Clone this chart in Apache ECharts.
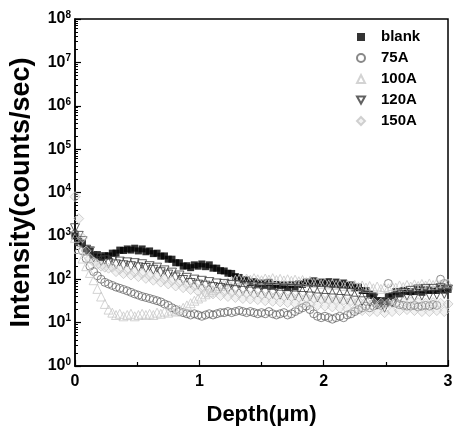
<!DOCTYPE html>
<html>
<head>
<meta charset="utf-8">
<script src="https://cdn.jsdelivr.net/npm/echarts@6/dist/echarts.min.js"></script>
<style>
html,body{margin:0;padding:0;background:#fff;}
#chart{width:458px;height:439px;}
</style>
</head>
<body>
<div id="chart"></div>
<script>
// Depth (µm) sampling positions
const depth = [0.00,0.03,0.06,0.09,0.12,0.15,0.18,0.21,0.24,0.27,
0.30,0.33,0.36,0.39,0.42,0.45,0.48,0.51,0.54,0.57,
0.60,0.63,0.66,0.69,0.72,0.75,0.78,0.81,0.84,0.87,
0.90,0.93,0.96,0.99,1.02,1.05,1.08,1.11,1.14,1.17,
1.20,1.23,1.26,1.29,1.32,1.35,1.38,1.41,1.44,1.47,
1.50,1.53,1.56,1.59,1.62,1.65,1.68,1.71,1.74,1.77,
1.80,1.83,1.86,1.89,1.92,1.95,1.98,2.01,2.04,2.07,
2.10,2.13,2.16,2.19,2.22,2.25,2.28,2.31,2.34,2.37,
2.40,2.43,2.46,2.49,2.52,2.55,2.58,2.61,2.64,2.67,
2.70,2.73,2.76,2.79,2.82,2.85,2.88,2.91,2.94,2.97,3.00];

// Intensity (counts/sec)
const blank = [1000,750,680,500,450,360,370,320,350,345,
400,400,470,460,500,470,520,450,500,430,
450,390,400,340,345,290,290,240,240,200,
205,185,215,200,225,195,215,180,180,158,
155,138,136,115,110,96,96,84,88,78,
82,74,85,72,76,72,74,65,75,67,
78,76,86,80,92,80,86,82,88,76,
86,74,82,72,74,63,66,55,55,46,
42,32,32,30,40,42,52,46,55,52,
52,52,58,50,57,55,56,55,62,56,58];

const a75 = [1100,700,450,300,200,150,120,100,85,78,
72,66,62,58,54,50,46,43,40,38,
36,34,32,30,27,25,22,20,18,17,
16,15,16,15,14,15,16,15,16,17,
17,18,17,18,19,18,17,18,17,16,
17,16,18,16,15,16,17,15,16,18,
20,22,24,20,16,14,13,14,13,12,
13,14,13,15,16,18,20,22,24,22,
24,26,25,28,80,30,28,26,25,24,
24,25,23,24,25,24,26,25,100,80,60];

const a100 = [900,500,300,200,140,95,60,40,27,20,
17,15,16,14,15,16,14,15,16,15,
16,15,17,16,18,17,19,18,20,22,
25,28,32,36,40,45,50,56,62,70,
78,85,92,98,102,96,104,98,106,100,
95,104,98,106,96,102,94,100,92,98,
90,96,86,92,82,88,78,84,76,80,
74,78,70,76,68,74,66,72,64,70,
62,68,60,66,62,70,64,72,66,74,
68,76,70,78,72,80,74,82,76,84,80];

const a120 = [1500,1000,760,480,440,320,320,260,280,235,
265,220,255,210,245,200,235,188,222,182,
200,165,185,145,160,128,142,110,122,96,
108,82,98,75,92,71,86,66,80,63,
78,59,74,56,72,54,70,52,68,50,
66,48,64,46,62,44,61,43,60,42,
59,41,58,40,56,38,54,37,53,36,
52,35,50,34,48,32,46,31,42,29,
36,26,28,22,30,29,39,36,48,42,
54,40,58,42,60,43,60,44,62,46,58];

const a150 = [8000,2500,900,450,300,250,220,200,190,180,
190,150,170,135,160,125,145,115,135,105,
120,95,112,86,100,78,92,70,84,64,
76,58,70,53,64,49,60,46,56,42,
52,40,50,38,48,36,47,35,46,34,
44,32,43,31,42,30,41,29,40,28,
39,27,38,26,37,25,36,24,35,23,
34,22,33,21,32,20,31,19,30,18,
29,18,28,17,28,18,29,19,30,20,
30,19,29,18,28,18,29,19,28,18,27];

const seriesNames = ['blank','75A','100A','120A','150A'];
const xTicks = [0, 1, 2, 3];
const yDecades = [1, 10, 100, 1000, 10000, 100000, 1000000, 10000000, 100000000];

const minorVals = [];
for (let i = 0; i < yDecades.length - 1; i++) {
  for (let k = 2; k <= 9; k++) minorVals.push(yDecades[i] * k);
}

function pairs(arr) { return depth.map((d, i) => [d, arr[i]]); }

const FONT = 'Liberation Sans, Arial, sans-serif';
const chart = echarts.init(document.getElementById('chart'), null, {renderer: 'canvas'});

const downTri = 'path://M0,0 L10,0 L5,9 Z';
const styles = [
  {symbol: 'rect', size: 7, item: {color: '#000', borderColor: '#000', borderWidth: 0}},
  {symbol: 'circle', size: 8, item: {color: 'rgba(255,255,255,0)', borderColor: '#6a6a6a', borderWidth: 1}},
  {symbol: 'triangle', size: 9, item: {color: 'rgba(255,255,255,0)', borderColor: '#c8c8c8', borderWidth: 1}},
  {symbol: downTri, size: 9, item: {color: 'rgba(255,255,255,0)', borderColor: '#3a3a3a', borderWidth: 1}},
  {symbol: 'diamond', size: 10, item: {color: 'rgba(210,210,210,0.35)', borderColor: '#c6c6c6', borderWidth: 1}}
];
const legendIcons = ['rect', 'circle', 'triangle', downTri, 'diamond'];
const datas = [blank, a75, a100, a120, a150];

const series = seriesNames.map((name, i) => ({
  name: name,
  type: 'scatter',
  symbol: styles[i].symbol,
  symbolSize: styles[i].size,
  itemStyle: styles[i].item,
  data: pairs(datas[i]),
  animation: false,
  xAxisIndex: 0,
  yAxisIndex: 0
}));

chart.setOption({
  animation: false,
  textStyle: {fontFamily: FONT},
  grid: {left: 75, right: 10, top: 19, bottom: 73, show: true, borderColor: '#000', borderWidth: 1.5, backgroundColor: 'transparent'},
  legend: {
    orient: 'vertical',
    left: 351, top: 24,
    itemWidth: 8, itemHeight: 8, itemGap: 5,
    textStyle: {fontFamily: FONT, fontSize: 15, fontWeight: 'bold', color: '#000', lineHeight: 16, padding: [0, 0, 0, 11]},
    data: seriesNames.map((n, i) => ({name: n, icon: legendIcons[i]}))
  },
  xAxis: {
    type: 'value', min: 0, max: 3, interval: 1,
    name: 'Depth(\u03bcm)', nameLocation: 'middle', nameGap: 38,
    nameTextStyle: {fontFamily: FONT, fontSize: 22, fontWeight: 'bold', color: '#000'},
    axisLine: {show: true, lineStyle: {color: '#000', width: 1.5}},
    axisTick: {show: true, inside: true, length: 6, lineStyle: {color: '#000', width: 1.2}},
    minorTick: {show: true, splitNumber: 2, length: 4, lineStyle: {color: '#000', width: 1.2}},
    splitLine: {show: false},
    axisLabel: {fontFamily: FONT, fontSize: 16, fontWeight: 'bold', color: '#000', margin: 8,
      customValues: xTicks}
  },
  yAxis: [{
    type: 'log', logBase: 10, min: 1, max: 1e8, interval: 1, splitNumber: 8,
    name: 'Intensity(counts/sec)', nameLocation: 'middle', nameGap: 40, nameRotate: 90,
    nameTextStyle: {fontFamily: FONT, fontSize: 27, fontWeight: 'bold', color: '#000'},
    axisLine: {show: true, lineStyle: {color: '#000', width: 1.5}},
    axisTick: {show: true, inside: true, length: 6, lineStyle: {color: '#000', width: 1.2}},
    splitLine: {show: false},
    axisLabel: {
      margin: 4,
      formatter: function (v) { return '{a|10}{b|' + Math.round(Math.log10(v)) + '}'; },
      rich: {
        a: {fontFamily: FONT, fontSize: 16, fontWeight: 'bold', color: '#000'},
        b: {fontFamily: FONT, fontSize: 10, fontWeight: 'bold', color: '#000', verticalAlign: 'top', padding: [0, 0, 8, 0]}
      }
    }
  }, {
    type: 'log', logBase: 10, min: 1, max: 1e8, position: 'left',
    axisLine: {show: false},
    axisLabel: {show: false},
    splitLine: {show: false},
    axisTick: {show: true, inside: true, length: 3, customValues: minorVals, lineStyle: {color: '#000', width: 1}}
  }],
  series: series
});
</script>
</body>
</html>
